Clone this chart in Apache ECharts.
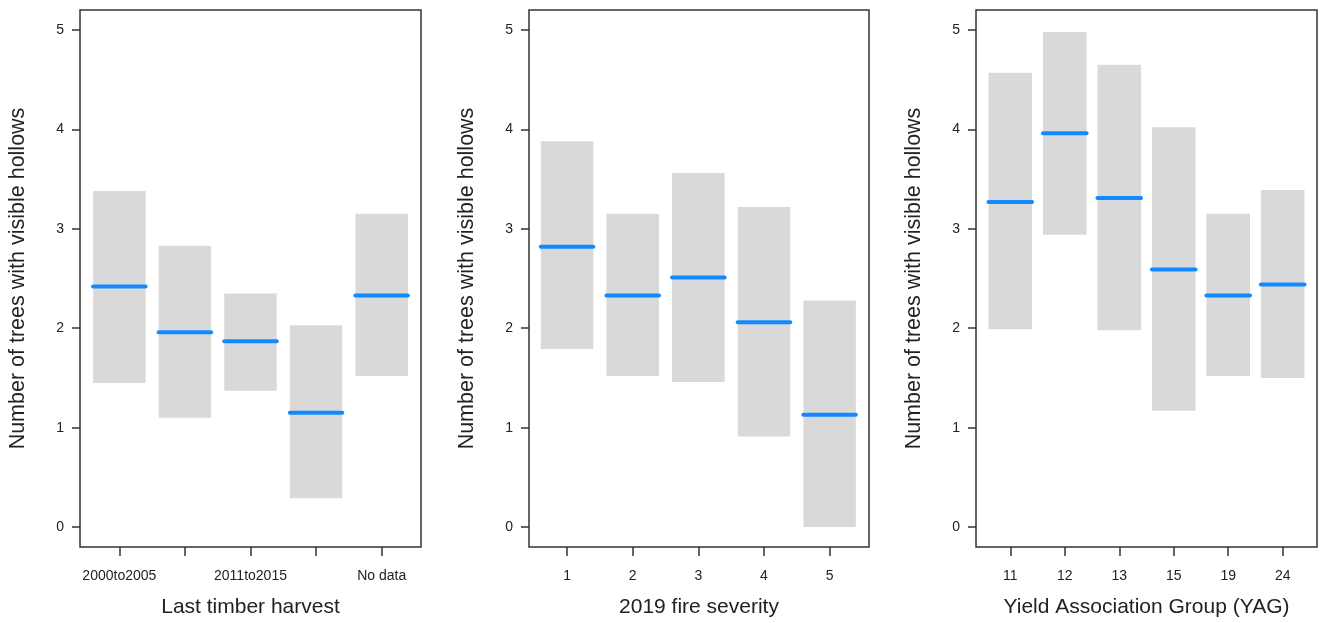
<!DOCTYPE html>
<html>
<head>
<meta charset="utf-8">
<script src="https://cdn.jsdelivr.net/npm/echarts@6/dist/echarts.min.js"></script>
<style>
html,body{margin:0;padding:0;background:#fff;}
#chart{width:1327px;height:623px;}
</style>
</head>
<body>
<div id="chart"></div>
<script>
// ---- Data ----
var harvestCats = ['2000to2005', '2006to2010', '2011to2015', '2016to2019', 'No data'];
var harvestMean = [2.42, 1.96, 1.87, 1.15, 2.33];
var harvestLower = [1.45, 1.10, 1.37, 0.29, 1.52];
var harvestUpper = [3.38, 2.83, 2.35, 2.03, 3.15];
var harvestShownLabels = [1, 3, 5];

var fireCats = ['1', '2', '3', '4', '5'];
var fireMean = [2.82, 2.33, 2.51, 2.06, 1.13];
var fireLower = [1.79, 1.52, 1.46, 0.91, 0.00];
var fireUpper = [3.88, 3.15, 3.56, 3.22, 2.28];

var yagCats = ['11', '12', '13', '15', '19', '24'];
var yagMean = [3.27, 3.96, 3.31, 2.59, 2.33, 2.44];
var yagLower = [1.99, 2.94, 1.98, 1.17, 1.52, 1.50];
var yagUpper = [4.57, 4.98, 4.65, 4.02, 3.15, 3.39];

var yTicks = [0, 1, 2, 3, 4, 5];
var yTitle = 'Number of trees with visible hollows';
var xTitles = ['Last timber harvest', '2019 fire severity', 'Yield Association Group (YAG)'];

// ---- Build ----
var FONT = "'Liberation Sans', Arial, sans-serif";
var TXT = '#222';
var panels = [
  {cats: harvestCats, mean: harvestMean, lo: harvestLower, hi: harvestUpper, shown: harvestShownLabels, left: 80, width: 341, xmin: 0.4, xmax: 5.6},
  {cats: fireCats, mean: fireMean, lo: fireLower, hi: fireUpper, shown: null, left: 529, width: 340, xmin: 0.42, xmax: 5.6},
  {cats: yagCats, mean: yagMean, lo: yagLower, hi: yagUpper, shown: null, left: 976, width: 341, xmin: 0.37, xmax: 6.63}
];

var grids = [], xAxes = [], yAxes = [], series = [];
panels.forEach(function (p, i) {
  var pos = p.cats.map(function (c, k) { return k + 1; });
  grids.push({left: p.left, width: p.width, top: 10, height: 537, show: true, borderColor: '#333', borderWidth: 1.5, backgroundColor: 'transparent'});
  xAxes.push({
    type: 'value', gridIndex: i, min: p.xmin, max: p.xmax, position: 'bottom',
    name: xTitles[i], nameLocation: 'middle', nameGap: 50,
    nameTextStyle: {fontFamily: FONT, fontSize: 21, color: TXT},
    axisLine: {show: false, onZero: false},
    splitLine: {show: false},
    axisTick: {show: true, length: 9, customValues: pos, lineStyle: {color: '#333', width: 1.5}},
    axisLabel: {
      customValues: p.shown || pos, margin: 22,
      fontFamily: FONT, fontSize: 14, color: TXT,
      formatter: (function (cats) { return function (v) { return cats[Math.round(v) - 1]; }; })(p.cats)
    }
  });
  yAxes.push({
    type: 'value', gridIndex: i, min: -0.2, max: 5.2, position: 'left',
    name: yTitle, nameLocation: 'middle', nameGap: 51, nameRotate: 90,
    nameTextStyle: {fontFamily: FONT, fontSize: 21.5, color: TXT},
    axisLine: {show: false, onZero: false},
    splitLine: {show: false},
    axisTick: {show: true, length: 8, customValues: yTicks, lineStyle: {color: '#333', width: 1.5}},
    axisLabel: {customValues: yTicks, margin: 16, fontFamily: FONT, fontSize: 14, color: TXT}
  });
  var data = p.cats.map(function (c, k) { return [k + 1, p.lo[k], p.hi[k], p.mean[k]]; });
  series.push({
    type: 'custom', xAxisIndex: i, yAxisIndex: i, data: data, silent: true,
    renderItem: function (params, api) {
      var x = api.value(0), lo = api.value(1), hi = api.value(2), m = api.value(3);
      var tl = api.coord([x - 0.4, hi]);
      var br = api.coord([x + 0.4, lo]);
      var ml = api.coord([x - 0.4, m]);
      var mr = api.coord([x + 0.4, m]);
      return {
        type: 'group',
        children: [
          {type: 'rect', shape: {x: tl[0], y: tl[1], width: br[0] - tl[0], height: br[1] - tl[1]}, style: {fill: '#d9d9d9'}},
          {type: 'line', shape: {x1: ml[0], y1: ml[1], x2: mr[0], y2: mr[1]}, style: {stroke: '#128aff', lineWidth: 4, lineCap: 'round'}}
        ]
      };
    }
  });
});

var chart = echarts.init(document.getElementById('chart'), null, {renderer: 'canvas'});
chart.setOption({
  backgroundColor: '#fff',
  animation: false,
  grid: grids,
  xAxis: xAxes,
  yAxis: yAxes,
  series: series
});
</script>
</body>
</html>
